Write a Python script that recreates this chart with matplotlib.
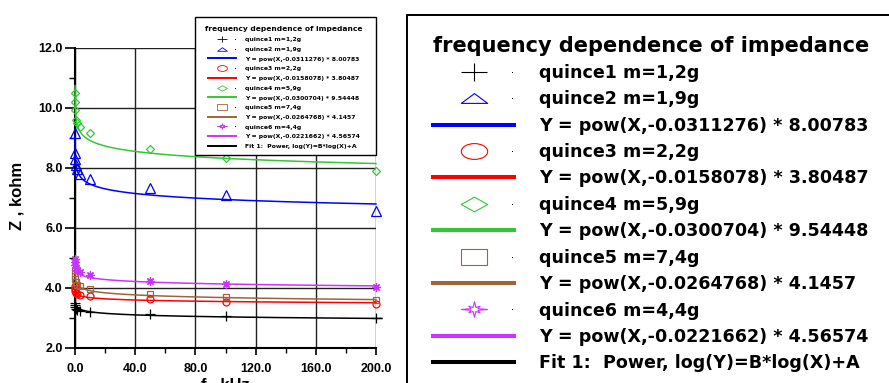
import numpy as np
import matplotlib.pyplot as plt
from matplotlib.path import Path
from matplotlib.transforms import Affine2D
from matplotlib.lines import Line2D
from matplotlib.patches import Rectangle

# data (f in kHz, Z in kohm)
freq = [0.02, 0.05, 0.1, 0.5, 1, 3, 10, 50, 100, 200]
quince1 = [3.50, 3.42, 3.35, 3.30, 3.27, 3.24, 3.20, 3.12, 3.06, 2.98]
quince2 = [9.15, 8.50, 8.28, 8.08, 7.95, 7.80, 7.63, 7.33, 7.08, 6.55]
quince3 = [4.05, 3.95, 3.88, 3.82, 3.79, 3.77, 3.73, 3.62, 3.54, 3.46]
quince4 = [10.50, 10.20, 9.93, 9.60, 9.50, 9.37, 9.15, 8.63, 8.32, 7.88]
quince5 = [4.60, 4.40, 4.30, 4.20, 4.10, 4.05, 3.95, 3.78, 3.70, 3.60]
quince6 = [4.95, 4.85, 4.75, 4.65, 4.58, 4.52, 4.42, 4.22, 4.13, 4.01]

names = ['quince1 m=1,2g', 'quince2 m=1,9g', 'quince3 m=2,2g',
         'quince4 m=5,9g', 'quince5 m=7,4g', 'quince6 m=4,4g']
# power fits Y = A * X^B (quince1 coefficients estimated, not printed)
fit_a = [3.38, 8.00783, 3.80487, 9.54448, 4.1457, 4.56574]
fit_b = [-0.024, -0.0311276, -0.0158078, -0.0300704, -0.0264768, -0.0221662]
fit_labels = ['Fit 1:  Power, log(Y)=B*log(X)+A',
              'Y = pow(X,-0.0311276) * 8.00783',
              'Y = pow(X,-0.0158078) * 3.80487',
              'Y = pow(X,-0.0300704) * 9.54448',
              'Y = pow(X,-0.0264768) * 4.1457',
              'Y = pow(X,-0.0221662) * 4.56574']
fit_xmax = [204, 200, 200, 200, 200, 200]

series = [quince1, quince2, quince3, quince4, quince5, quince6]
colors = ['black', '#0000ff', '#ff0000', '#33c833', '#a0643c', '#cc33ff']
plot_markers = ['+', '^', 'o', 'D', 's', (8, 2, 0)]
plot_ms = [7.5, 6.5, 5, 4.3, 5, 6]

W, H = 889, 383


def closed(verts):
    verts = verts + [verts[0]]
    codes = [Path.MOVETO] + [Path.LINETO] * (len(verts) - 2) + [Path.CLOSEPOLY]
    return Path(verts, codes)


# legend symbols are drawn wide in the original
plus = Path([(-1.5, 0), (1.5, 0), (0, -1), (0, 1)],
            [Path.MOVETO, Path.LINETO, Path.MOVETO, Path.LINETO])
tri = closed([(-1.35, -0.5), (1.35, -0.5), (0, 0.5)])
ell = Path.unit_circle().transformed(Affine2D().scale(1.67, 1))
dia = closed([(-1.8, 0), (0, 1), (1.8, 0), (0, -1)])
sq = closed([(-1.7, -1), (1.7, -1), (1.7, 1), (-1.7, 1)])
star_v = []
for k in range(16):
    ang = np.pi / 8 * k
    r = (1.0 if k % 4 == 0 else 0.6) if k % 2 == 0 else 0.28
    star_v.append((1.7 * r * np.cos(ang), r * np.sin(ang)))
star = closed(star_v)
leg_markers = [plus, tri, ell, dia, sq, star]


class MarkDot:
    # marker in the middle of the handle and a small dot at its right end
    def legend_artist(self, legend, orig, fontsize, handlebox):
        w, h = handlebox.width, handlebox.height
        x0, y0 = -handlebox.xdescent, -handlebox.ydescent
        tr = handlebox.get_transform()
        mk = Line2D([x0 + 0.5 * w], [y0 + 0.5 * h], ls='none',
                    marker=orig.get_marker(), ms=orig.get_markersize(),
                    mec=orig.get_markeredgecolor(), mfc='none',
                    mew=orig.get_markeredgewidth(), transform=tr)
        dot = Line2D([x0 + 0.98 * w], [y0 + 0.5 * h], ls='none', marker='s',
                     ms=0.7, color='black', mew=0, transform=tr)
        handlebox.add_artist(mk)
        handlebox.add_artist(dot)
        return mk


def add_legend(fig, ms, mew, lw, size, title_size, spacing, box, start, frame_lw):
    # box = (left, top, right, bottom) of the frame in pixels, start = (x, y) of content
    l, t, r, b = box
    fig.add_artist(Rectangle((l / W, 1 - b / H), (r - l) / W, (b - t) / H,
                             transform=fig.transFigure, facecolor='white',
                             edgecolor='black', lw=frame_lw, zorder=4))
    handles, labels, hmap = [], [], {}
    for i in range(6):
        h = Line2D([], [], ls='none', marker=leg_markers[i], ms=ms,
                   mec=colors[i], mfc='none', mew=mew)
        hmap[h] = MarkDot()
        handles.append(h)
        labels.append(names[i])
        if i > 0:
            handles.append(Line2D([], [], color=colors[i], lw=lw))
            labels.append(fit_labels[i])
    handles.append(Line2D([], [], color='black', lw=lw))
    labels.append(fit_labels[0])
    leg = fig.legend(handles, labels, handler_map=hmap, loc='upper left',
                     bbox_to_anchor=(start[0] / W, 1 - start[1] / H),
                     borderaxespad=0, borderpad=0, frameon=False,
                     title='frequency dependence of impedance',
                     prop={'family': 'DejaVu Sans', 'weight': 'bold', 'size': size},
                     title_fontproperties={'family': 'DejaVu Sans', 'weight': 'bold',
                                           'size': title_size},
                     handlelength=4.6, handletextpad=1.45, labelspacing=spacing)
    leg.set_zorder(5)
    return leg


fig = plt.figure(figsize=(8.89, 3.83), dpi=100)
ax = fig.add_axes([75 / W, 1 - 347.7 / H, 301 / W, 300 / H])

for i in range(6):
    xf = np.geomspace(0.02, fit_xmax[i], 400)
    ax.plot(xf, fit_a[i] * xf ** fit_b[i], color=colors[i], lw=1.1,
            clip_on=False, zorder=3)
    ax.plot(freq, series[i], ls='none', marker=plot_markers[i], ms=plot_ms[i],
            mec=colors[i], mfc='none', mew=0.9, clip_on=False, zorder=4)

ax.set_xlim(0, 200)
ax.set_ylim(2, 12)
ax.set_xticks(np.arange(0, 201, 40))
ax.set_xticks(np.arange(20, 200, 40), minor=True)
ax.set_yticks(np.arange(2, 13, 2))
ax.set_yticks(np.arange(3, 12, 2), minor=True)
ax.set_xticklabels(['%.1f' % v for v in np.arange(0, 201, 40)])
ax.set_yticklabels(['%.1f' % v for v in np.arange(2, 13, 2)])
for lab in ax.get_xticklabels() + ax.get_yticklabels():
    lab.set_fontfamily('Liberation Sans')
    lab.set_fontweight('bold')
    lab.set_fontsize(9)
ax.grid(True, which='major', color='#202020', lw=1.0)
ax.set_axisbelow(True)
ax.spines['top'].set_visible(False)
ax.spines['right'].set_visible(False)
ax.spines['left'].set_linewidth(1.5)
ax.spines['bottom'].set_linewidth(1.5)
ax.tick_params(axis='y', which='major', length=7, width=1.2, pad=2)
ax.tick_params(axis='y', which='minor', length=4, width=1.0)
ax.tick_params(axis='x', which='major', length=5, width=1.2, pad=6)
ax.tick_params(axis='x', which='minor', length=3.5, width=1.0)

fig.text(16.7 / W, 1 - 196 / H, 'Z , kohm', rotation=90, ha='center',
         va='center', fontsize=12, fontweight='bold', family='Liberation Sans')
fig.text(225 / W, 1 - 377 / H, 'f , kHz', ha='center', va='top',
         fontsize=12, fontweight='bold', family='Liberation Sans')

add_legend(fig, 7, 0.6, 1.4, 4.45, 5.4, 0.71, (195, 17, 376, 155), (205, 26.5), 1.0)
add_legend(fig, 19, 0.8, 2.9, 12.6, 15, 0.48, (407, 15, 900, 400), (433, 35.5), 1.4)

fig.savefig('out.png', dpi=100)
